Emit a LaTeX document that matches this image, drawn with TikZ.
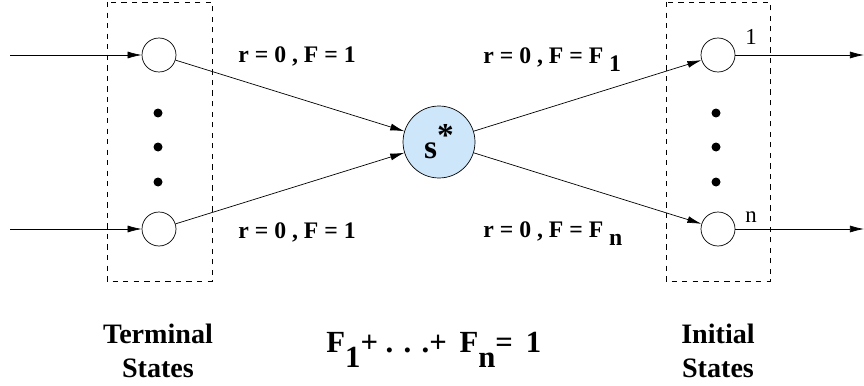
\documentclass[tikz,border=0pt]{standalone}
\usepackage{fontspec}
\setmainfont{Liberation Serif}
\usepackage{xcolor}
\usetikzlibrary{arrows.meta}

\definecolor{sfill}{RGB}{205,230,250}

\tikzset{
  state/.style={circle,draw,thin,minimum size=0.68cm,inner sep=0pt},
  sstar/.style={circle,draw,thin,fill=sfill,minimum size=1.44cm,inner sep=0pt,font=\fontsize{19}{19}\selectfont\bfseries},
  ddot/.style={circle,fill=black,minimum size=0.18cm,inner sep=0pt},
  lab/.style={font=\fontsize{13.5}{13.5}\selectfont\bfseries,inner sep=0pt},
  big/.style={font=\fontsize{16}{19}\selectfont\bfseries,inner sep=0pt,align=center,anchor=base},
  idx/.style={font=\fontsize{13}{13}\selectfont,inner sep=0pt,anchor=base},
  arr/.style={thin,-{Latex[length=8pt,width=4pt]}},
  group/.style={dashed,thin}
}

\begin{document}
\begin{tikzpicture}[x=0.02cm,y=-0.02cm]
\useasboundingbox (0,0) rectangle (864,385);
% boxes
\draw[group] (107,2) rectangle (212,281);
\draw[group] (666,2) rectangle (770,281);
% terminal states
\node[state] (t1) at (159,55) {};
\node[state] (tn) at (159,229) {};
\node[ddot] (td1) at (158,113) {};
\node[ddot] (td2) at (158,147) {};
\node[ddot] (td3) at (158,182) {};
% initial states
\node[state] (i1) at (718,55) {};
\node[state] (in) at (718,229) {};
\node[ddot] (id1) at (716,113) {};
\node[ddot] (id2) at (716,147) {};
\node[ddot] (id3) at (716,182) {};
\node[idx] (n1) at (751,45) {1};
\node[idx] (nn) at (751,222) {n};
% s*
\node[sstar] (s) at (439,142) {s\raisebox{0.8ex}{*}};
% free ends
\coordinate (a1) at (10,55);
\coordinate (an) at (10,229);
\coordinate (b1) at (864,55);
\coordinate (bn) at (864,229);
% connectors
\draw[arr] (a1) -- (t1);
\draw[arr] (an) -- (tn);
\draw[arr] (t1) -- (s);
\draw[arr] (tn) -- (s);
\draw[arr] (s) -- (i1);
\draw[arr] (s) -- (in);
\draw[arr] (i1) -- (b1);
\draw[arr] (in) -- (bn);
% labels
\node[lab,anchor=base] (l1) at (297,63) {r = 0 , F = 1};
\node[lab,anchor=base] (l2) at (297,238) {r = 0 , F = 1};
\node[lab,anchor=base west] (l3) at (483,64) {r = 0 , F = F \raisebox{-4.5pt}{1}};
\node[lab,anchor=base west] (l4) at (483,237) {r = 0 , F = F \raisebox{-5pt}{n}};
% bottom
\node[big] (term) at (158,377) {Terminal\\States};
\node[big] (init) at (718,377) {Initial\\States};
\node[big,font=\fontsize{17.5}{17.5}\selectfont\bfseries,anchor=base west] (sum) at (326,352)
  {F\raisebox{-9pt}{1}+ . . .+ \,F\raisebox{-9pt}{n}= \,1};
\end{tikzpicture}
\end{document}
